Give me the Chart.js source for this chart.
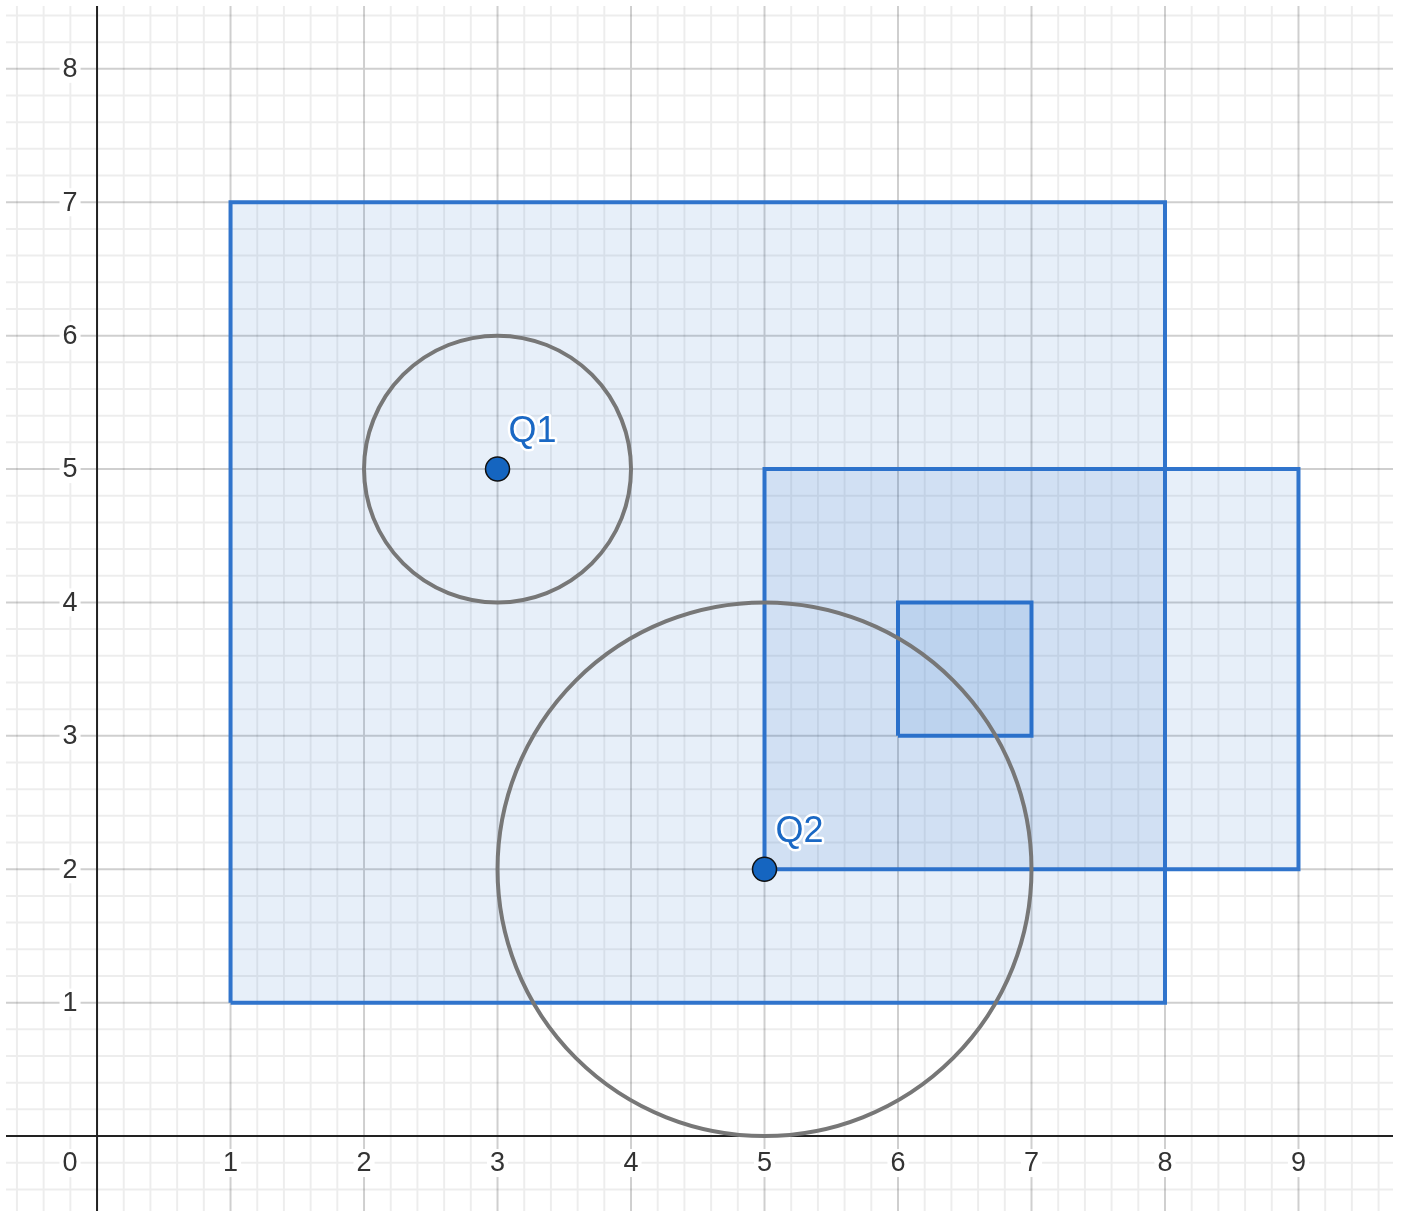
<!DOCTYPE html>
<html>
<head>
<meta charset="utf-8">
<script src="https://cdn.jsdelivr.net/npm/chart.js@4/dist/chart.umd.min.js"></script>
<style>
  html, body { margin: 0; padding: 0; background: #fff; overflow: hidden; }
  #geoChart { position: absolute; left: 0; top: 0; display: block; }
</style>
</head>
<body>
<canvas id="geoChart" width="1401" height="1211"></canvas>
<script>
// Visible window of the graph view
const xMin = -0.682, xMax = 9.708;
const yMin = -0.562, yMax = 8.471;

// Axis tick labels
const xTickValues = [1, 2, 3, 4, 5, 6, 7, 8, 9];
const yTickValues = [1, 2, 3, 4, 5, 6, 7, 8];
const originLabel = '0';

// Rectangles as [x1, y1, x2, y2]
const rectangles = [[1, 1, 8, 7], [5, 2, 9, 5], [6, 3, 7, 4]];

// Circles
const circleCenters = [[3, 5], [5, 2]];
const circleRadii = [1, 2];

// Named points
const pointNames = ['Q1', 'Q2'];
const pointX = [3, 5];
const pointY = [5, 2];

const FONT = '"Liberation Sans", Arial, sans-serif';
const RECT_STROKE = '#3074cc';
const RECT_FILL = 'rgba(21, 101, 192, 0.1)';

function rectPath(r) {
    return [
        { x: r[0], y: r[1] }, { x: r[2], y: r[1] },
        { x: r[2], y: r[3] }, { x: r[0], y: r[3] }, { x: r[0], y: r[1] }
    ];
}

const isMajor = k => k % 5 === 0;

const overlay = {
    id: 'overlay',
    beforeDatasetsDraw(chart) {
        const { ctx, chartArea: a, scales: { x, y } } = chart;
        const x0 = x.getPixelForValue(0), y0 = y.getPixelForValue(0);
        ctx.save();
        // grid: minor every 0.2, major on integers
        ctx.lineWidth = 2;
        [false, true].forEach(major => {
            ctx.strokeStyle = major ? 'rgba(0,0,0,0.19)' : 'rgba(0,0,0,0.07)';
            ctx.beginPath();
            for (let k = Math.ceil(xMin * 5); k <= Math.floor(xMax * 5); k++) {
                if (isMajor(k) !== major) continue;
                const px = x.getPixelForValue(k / 5);
                ctx.moveTo(px, a.top); ctx.lineTo(px, a.bottom);
            }
            for (let k = Math.ceil(yMin * 5); k <= Math.floor(yMax * 5); k++) {
                if (isMajor(k) !== major) continue;
                const py = y.getPixelForValue(k / 5);
                ctx.moveTo(a.left, py); ctx.lineTo(a.right, py);
            }
            ctx.stroke();
        });
        // axes
        ctx.strokeStyle = '#222';
        ctx.lineWidth = 2;
        ctx.beginPath();
        ctx.moveTo(a.left, y0); ctx.lineTo(a.right, y0);
        ctx.moveTo(x0, a.top); ctx.lineTo(x0, a.bottom);
        ctx.stroke();
        // tick labels
        ctx.font = '27px ' + FONT;
        ctx.textAlign = 'center';
        ctx.textBaseline = 'middle';
        const label = (txt, px, py) => {
            const w = ctx.measureText(txt).width + 6;
            ctx.fillStyle = '#fff';
            ctx.fillRect(px - w / 2, py - 14, w, 28);
            ctx.fillStyle = '#333';
            ctx.fillText(txt, px, py + 1);
        };
        xTickValues.forEach(v => label(String(v), x.getPixelForValue(v), y0 + 27));
        yTickValues.forEach(v => label(String(v), x0 - 27, y.getPixelForValue(v)));
        label(originLabel, x0 - 27, y0 + 27);
        ctx.restore();
    },
    afterDatasetDraw(chart, args) {
        // circles go above the rectangles, below the points
        if (args.index !== 1) return;
        const { ctx, scales: { x, y } } = chart;
        ctx.save();
        ctx.strokeStyle = '#777';
        ctx.lineWidth = 4;
        circleCenters.forEach((c, i) => {
            const cx = x.getPixelForValue(c[0]), cy = y.getPixelForValue(c[1]);
            const rx = x.getPixelForValue(c[0] + circleRadii[i]) - cx;
            const ry = cy - y.getPixelForValue(c[1] + circleRadii[i]);
            ctx.beginPath();
            ctx.ellipse(cx, cy, rx, ry, 0, 0, Math.PI * 2);
            ctx.stroke();
        });
        ctx.restore();
    },
    afterDatasetsDraw(chart) {
        const { ctx, scales: { x, y } } = chart;
        ctx.save();
        ctx.font = '36px ' + FONT;
        ctx.textAlign = 'left';
        ctx.textBaseline = 'middle';
        ctx.lineJoin = 'round';
        pointNames.forEach((name, i) => {
            const px = x.getPixelForValue(pointX[i]) + 11;
            const py = y.getPixelForValue(pointY[i]) - 37;
            ctx.strokeStyle = '#fff';
            ctx.lineWidth = 5;
            ctx.strokeText(name, px, py);
            ctx.fillStyle = '#1a68c4';
            ctx.fillText(name, px, py);
        });
        ctx.restore();
    }
};

const datasets = [{
    label: 'points',
    data: pointX.map((v, i) => ({ x: v, y: pointY[i] })),
    pointRadius: 12,
    pointHoverRadius: 12,
    pointBackgroundColor: '#1565c0',
    pointBorderColor: '#111',
    pointBorderWidth: 1.5
}];
rectangles.forEach((r, i) => {
    datasets.push({
        label: 'rect' + (i + 1),
        data: rectPath(r),
        showLine: true,
        fill: 'shape',
        backgroundColor: RECT_FILL,
        borderColor: RECT_STROKE,
        borderWidth: 4,
        borderJoinStyle: 'miter',
        tension: 0,
        pointRadius: 0,
        pointHoverRadius: 0
    });
});

new Chart(document.getElementById('geoChart'), {
    type: 'scatter',
    data: { datasets },
    options: {
        responsive: false,
        animation: false,
        layout: { autoPadding: false, padding: { left: 6, top: 6, right: 8, bottom: 0 } },
        plugins: {
            legend: { display: false },
            tooltip: { enabled: false }
        },
        scales: {
            x: { type: 'linear', min: xMin, max: xMax, display: false },
            y: { type: 'linear', min: yMin, max: yMax, display: false }
        }
    },
    plugins: [overlay]
});
</script>
</body>
</html>
